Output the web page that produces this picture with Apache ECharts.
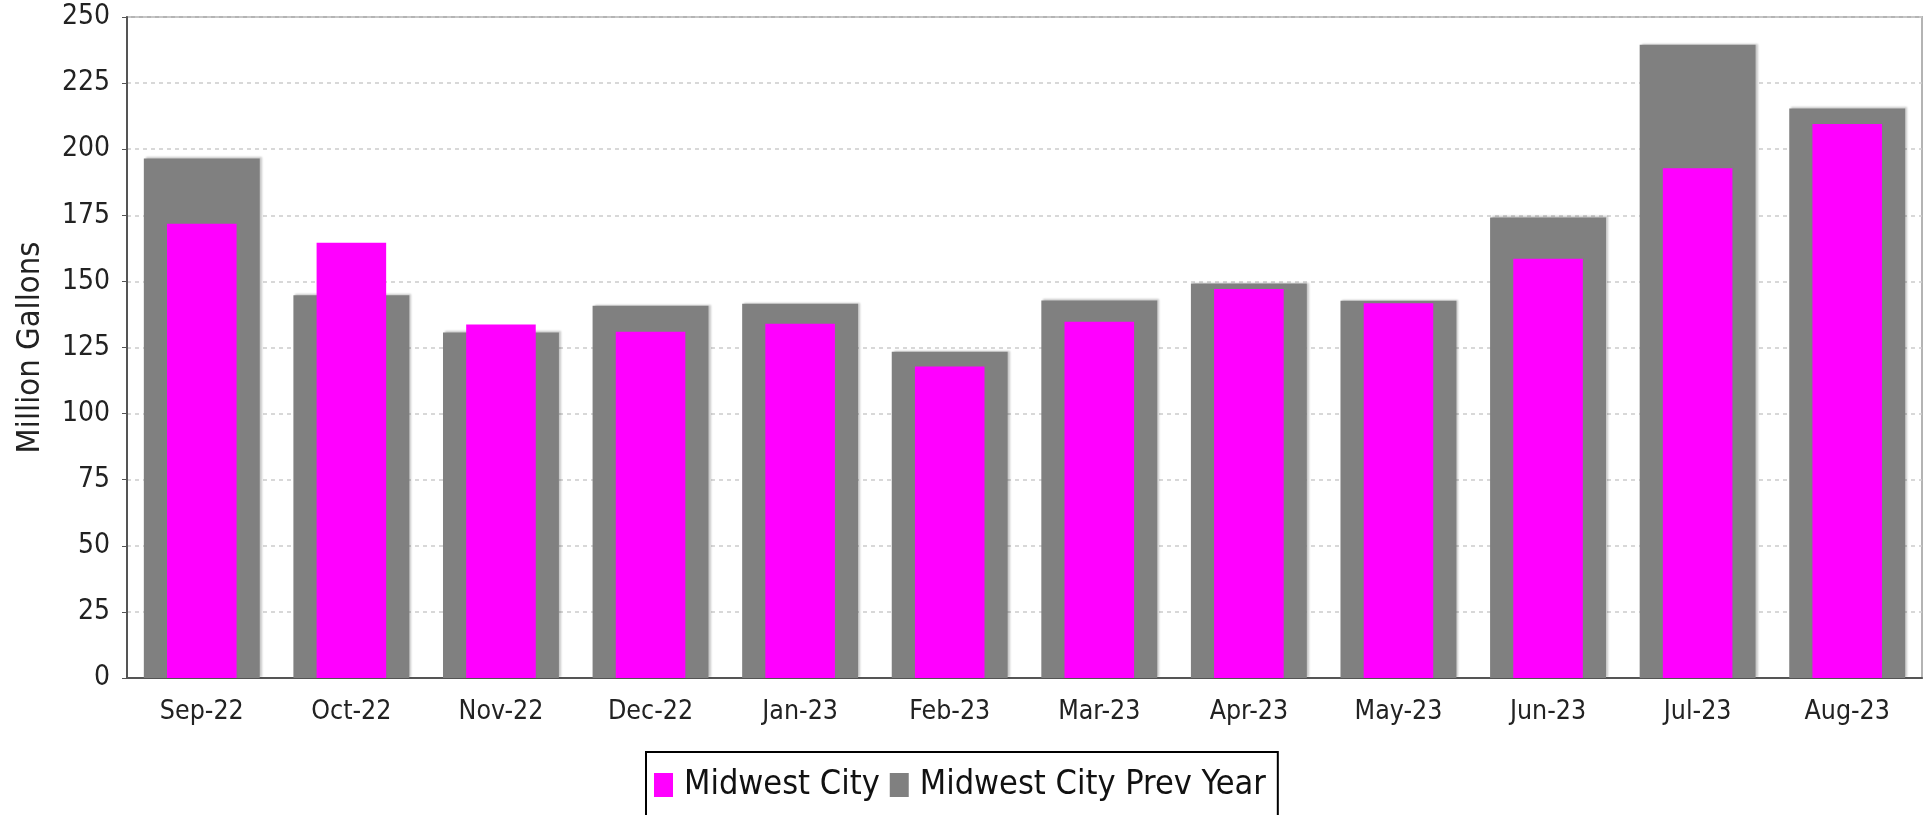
<!DOCTYPE html>
<html>
<head>
<meta charset="utf-8">
<title>Midwest City</title>
<script src="https://cdn.jsdelivr.net/npm/echarts@6/dist/echarts.min.js"></script>
<style>
    html, body { margin: 0; padding: 0; background: #fff; }
    #barChart { width: 1932px; height: 815px; }
</style>
</head>
<body>
<div id="barChart"></div>
<script>
// tháng
let months = ['Sep-22', 'Oct-22', 'Nov-22', 'Dec-22', 'Jan-23', 'Feb-23', 'Mar-23', 'Apr-23', 'May-23', 'Jun-23', 'Jul-23', 'Aug-23'];
// năm nay (million gallons)
let cityData = [171.8, 164.6, 133.7, 131, 134, 117.8, 134.7, 147.1, 141.7, 158.6, 192.8, 209.5];
// năm trước
let prevYearData = [196.5, 144.8, 130.7, 140.8, 141.5, 123.4, 142.8, 149.2, 142.7, 174.2, 239.5, 215.4];
let seriesNames = ['Midwest City', 'Midwest City Prev Year'];

var myChart = {};

window.onload = function () {
    myChart = echarts.init(document.getElementById('barChart'));

    let labelFont = 'DejaVu Sans Condensed';

    let option = {
        animation: false,
        backgroundColor: '#fff',
        grid: {
            left: 127,
            right: 10,
            top: 17,
            bottom: 137,
            show: true,
            borderColor: '#b4b4b4',
            borderWidth: 2
        },
        legend: {
            data: seriesNames,
            left: 646,
            top: 752,
            padding: [16, 12, 24, 8],
            borderColor: '#000',
            borderWidth: 2,
            itemWidth: 19,
            itemHeight: 24,
            itemGap: 10,
            icon: 'rect',
            textStyle: {
                fontFamily: labelFont,
                fontSize: 34,
                color: '#111',
                padding: [0, 0, 0, 6]
            }
        },
        xAxis: [
            {
                type: 'category',
                data: months,
                axisLine: { lineStyle: { color: '#555', width: 2 } },
                axisTick: { show: false },
                axisLabel: {
                    margin: 21,
                    fontFamily: labelFont,
                    fontSize: 26.5,
                    color: '#222'
                }
            },
            {
                // trục ẩn để 2 cột chồng lên nhau, cùng tâm
                type: 'category',
                data: months,
                show: false
            }
        ],
        yAxis: {
            type: 'value',
            min: 0,
            max: 250,
            interval: 25,
            name: 'Million Gallons',
            nameLocation: 'middle',
            nameGap: 80,
            nameTextStyle: {
                fontFamily: labelFont,
                fontSize: 32.5,
                color: '#222'
            },
            axisLine: { show: true, lineStyle: { color: '#555', width: 2 } },
            axisTick: { show: true, length: 5, lineStyle: { color: '#555' } },
            axisLabel: {
                margin: 17,
                fontFamily: labelFont,
                fontSize: 28,
                color: '#222'
            },
            splitLine: {
                lineStyle: { color: '#cccccc', type: [4, 4], width: 1.5 }
            }
        },
        series: [
            {
                name: 'Midwest City Prev Year',
                type: 'bar',
                xAxisIndex: 0,
                barWidth: '77.5%',
                itemStyle: {
                    color: '#808080',
                    shadowColor: 'rgba(0, 0, 0, 0.22)',
                    shadowBlur: 2,
                    shadowOffsetX: 2,
                    shadowOffsetY: -1
                },
                data: prevYearData
            },
            {
                name: 'Midwest City',
                type: 'bar',
                xAxisIndex: 1,
                barWidth: '46.5%',
                itemStyle: { color: '#ff00ff' },
                data: cityData
            }
        ]
    };

    myChart.setOption(option);
};
</script>
</body>
</html>
